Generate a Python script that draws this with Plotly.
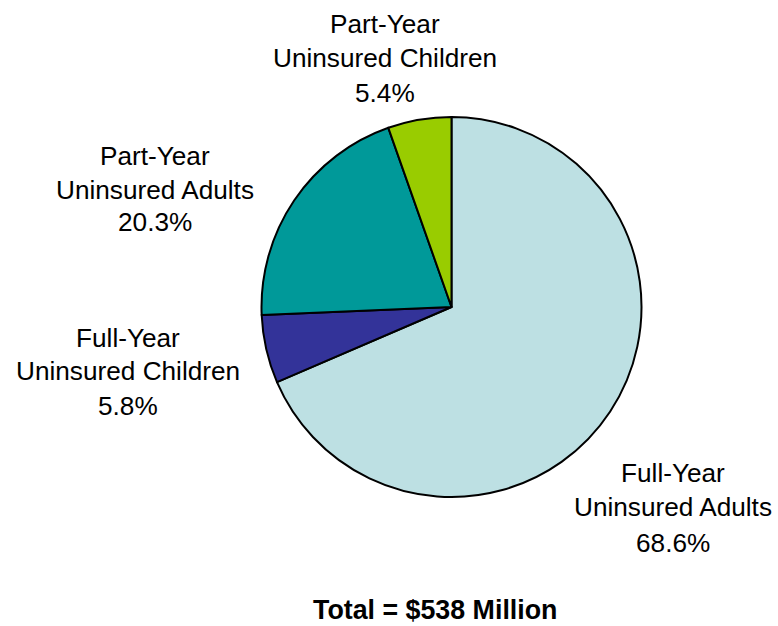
import plotly.graph_objects as go

# Data
categories = ["Full-Year Uninsured Adults", "Full-Year Uninsured Children",
              "Part-Year Uninsured Adults", "Part-Year Uninsured Children"]
label_lines = [["Full-Year", "Uninsured Adults"], ["Full-Year", "Uninsured Children"],
               ["Part-Year", "Uninsured Adults"], ["Part-Year", "Uninsured Children"]]
shares = [68.6, 5.8, 20.3, 5.4]
colors = ["#BDE0E3", "#333399", "#009999", "#99CC00"]
total_text = "Total = $538 Million"

W, H = 778, 626
cx, cy, r = 451.5, 307, 190

fig = go.Figure(go.Pie(
    labels=categories, values=shares, sort=False, direction="clockwise", rotation=0,
    marker=dict(colors=colors, line=dict(color="black", width=2)),
    textinfo="none", hoverinfo="label+value", showlegend=False,
    domain=dict(x=[(cx - r) / W, (cx + r) / W], y=[(H - cy - r) / H, (H - cy + r) / H]),
))

# label placement (pixel centres of each text block's lines)
label_pos = [(673, [473, 507, 543]), (128, [338, 371, 406]),
             (155, [156, 190, 222]), (384.5, [24, 58, 93])]

font = dict(family="Liberation Sans, Arial, sans-serif", size=26.2, color="black")
ann = []
for lines, v, (x, ys) in zip(label_lines, shares, label_pos):
    texts = lines + [f"{v:.1f}%"]
    for t, y in zip(texts, ys):
        ann.append(dict(text=t, x=x / W, y=1 - y / H, xref="paper", yref="paper",
                        xanchor="center", yanchor="middle", showarrow=False, font=font))
ann.append(dict(text=f"<b>{total_text}</b>", x=435 / W, y=1 - 610 / H, xref="paper", yref="paper",
                xanchor="center", yanchor="middle", showarrow=False,
                font=dict(family="Liberation Sans, Arial, sans-serif", size=26.8, color="black")))

fig.update_layout(width=W, height=H, margin=dict(l=0, r=0, t=0, b=0),
                  paper_bgcolor="white", plot_bgcolor="white", annotations=ann)
fig.write_html("out.html", config={"displayModeBar": False},
               post_script="document.body.style.margin='0';")
